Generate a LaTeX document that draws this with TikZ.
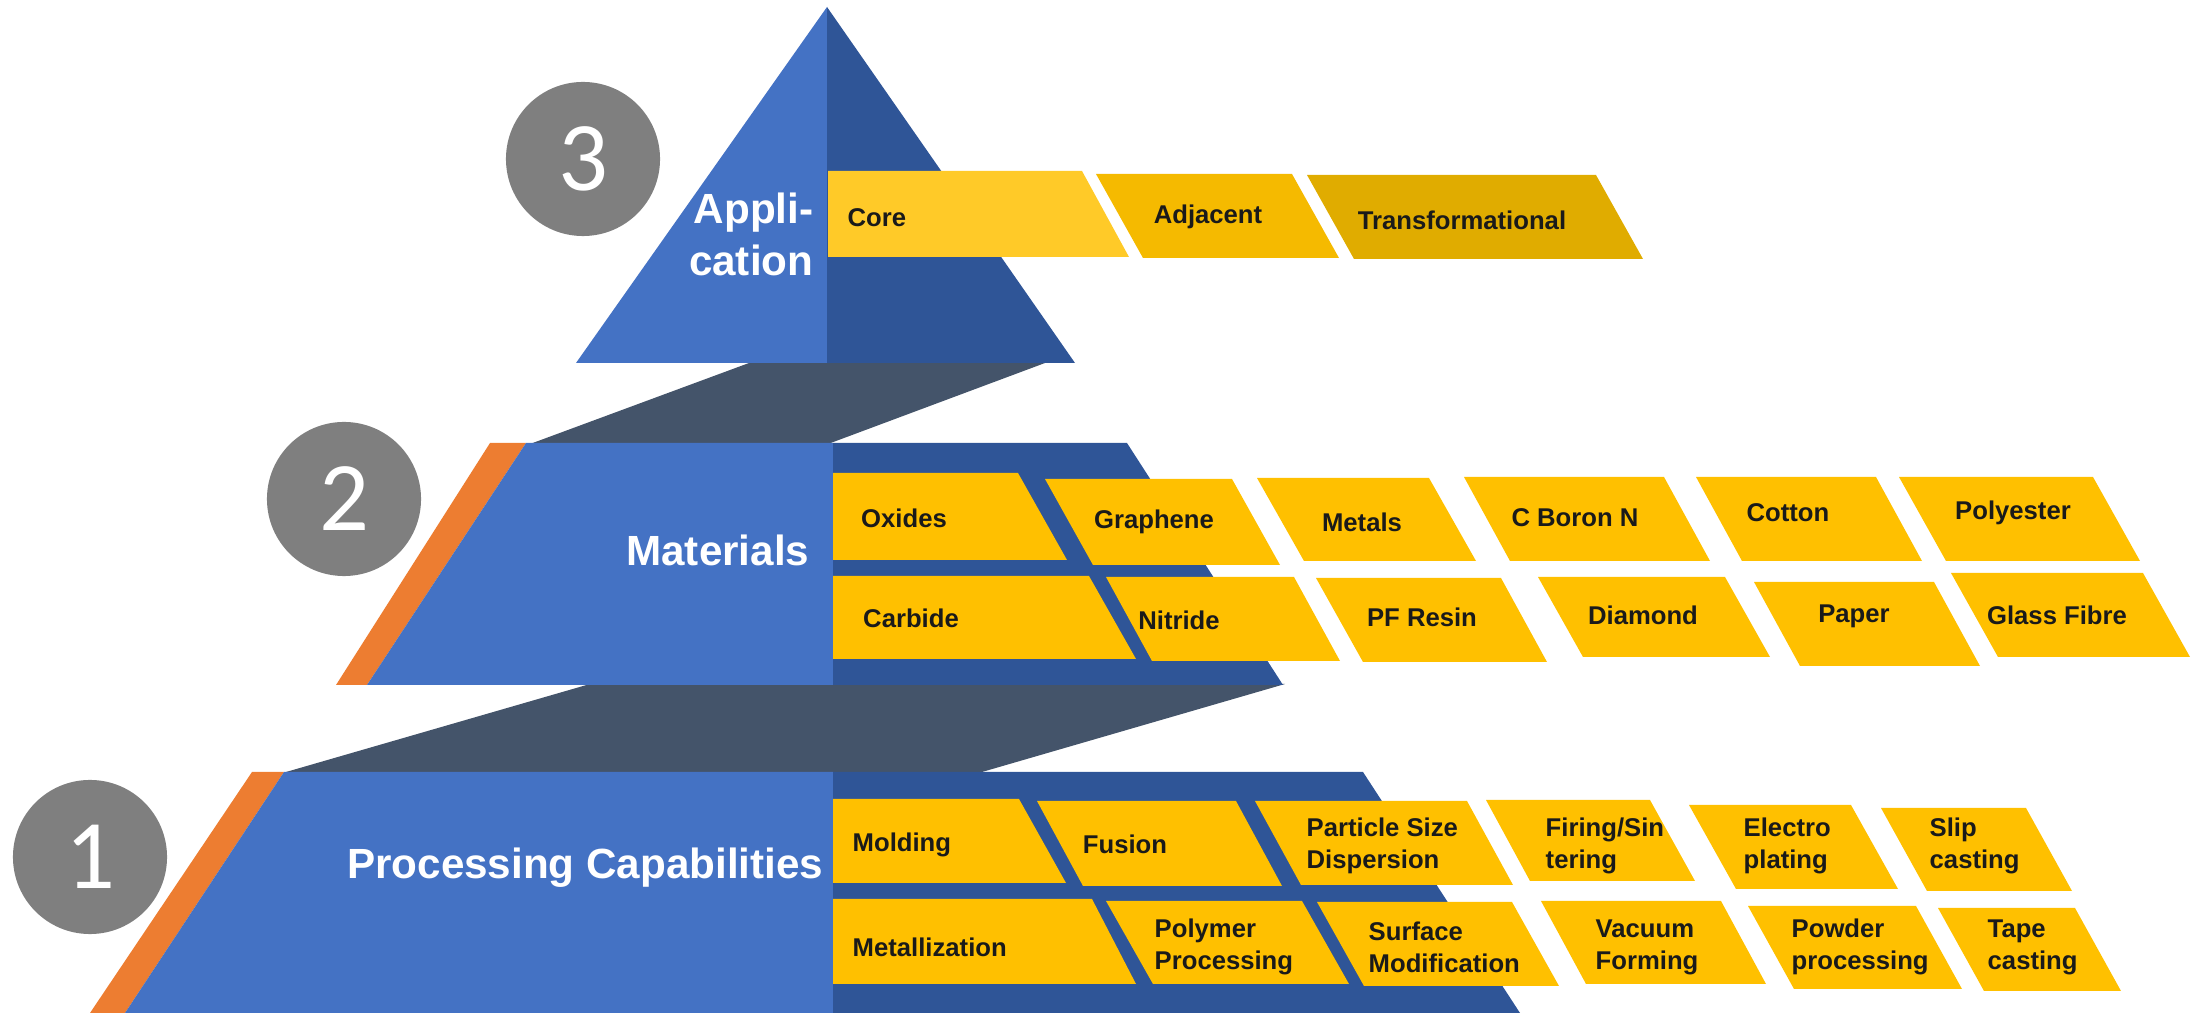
\documentclass[tikz,border=0pt]{standalone}
\usepackage{fontspec}
\setmainfont{Liberation Sans}
\newfontfamily\numfont{Carlito}
\usetikzlibrary{positioning}

\definecolor{pyrLight}{HTML}{4472C4}
\definecolor{pyrDark}{HTML}{2F5597}
\definecolor{bandGray}{HTML}{44546A}
\definecolor{edgeOrange}{HTML}{ED7D31}
\definecolor{badgeGray}{HTML}{7F7F7F}
\definecolor{chipYellow}{HTML}{FFC000}
\definecolor{coreYellow}{HTML}{FFCA28}
\definecolor{adjYellow}{HTML}{F5BA00}
\definecolor{transYellow}{HTML}{E0AC00}
\definecolor{chipText}{HTML}{1A1A1A}

\begin{document}
\begin{tikzpicture}[
        x=0.01cm, y=-0.01cm,
        light/.style={fill=pyrLight},
        dark/.style={fill=pyrDark},
        band/.style={fill=bandGray},
        edge/.style={fill=edgeOrange},
        chip/.style={fill=chipYellow},
        lbl/.style={inner sep=0pt, align=left, text=chipText, font=\fontsize{7.3}{9.1}\selectfont\bfseries},
        title/.style={inner sep=0pt, align=right, text=white, font=\fontsize{12}{14.8}\selectfont\bfseries},
        badge/.style={circle, fill=badgeGray, minimum size=1.54cm, inner sep=0pt, text=white, font=\numfont\fontsize{28}{28}\selectfont}
    ]
        \useasboundingbox (0,0) rectangle (2202,1013);

        % connecting bands
        \fill[band] (590,684) -- (1285,684) -- (982,772) -- (286,772) -- cycle;
        \fill[band] (749,363) -- (1045,363) -- (828,444) -- (530,444) -- cycle;

        % level 1
        \fill[edge] (252,772) -- (284,772) -- (125,1013) -- (90,1013) -- cycle;
        \fill[light] (284,772) -- (833,772) -- (833,1013) -- (125,1013) -- cycle;
        \fill[dark] (833,772) -- (1363,772) -- (1520,1013) -- (833,1013) -- cycle;

        % level 2
        \fill[edge] (490,443) -- (526,443) -- (367,685) -- (336,685) -- cycle;
        \fill[light] (526,443) -- (833,443) -- (833,685) -- (367,685) -- cycle;
        \fill[dark] (833,443) -- (1127,443) -- (1283,685) -- (833,685) -- cycle;

        % level 3
        \fill[light] (827,7) -- (827,363) -- (576,363) -- cycle;
        \fill[dark] (827,7) -- (1075,363) -- (827,363) -- cycle;

        \node[badge] (n3) at (583,159) {3};
        \node[badge] (n2) at (344,499) {2};
        \node[badge] (n1) at (90,857) {1};

        \node[title, anchor=east] (application) at (814,234) {Appli-\\cation};
        \node[title, anchor=east] (materials) at (810,550) {Materials};
        \node[title, anchor=east] (processing) at (824,868) {Processing Capabilities};

        % application
        \fill[chip, fill=coreYellow] (828,171) -- (1082,171) -- (1129,257) -- (828,257) -- cycle;
        \node[lbl, anchor=west] (core) at (847,218) {Core};
        \fill[chip, fill=adjYellow] (1096,174) -- (1292,174) -- (1339,258) -- (1143,258) -- cycle;
        \node[lbl] (adjacent) at (1208,217) {Adjacent};
        \fill[chip, fill=transYellow] (1307,175) -- (1596,175) -- (1643,259) -- (1354,259) -- cycle;
        \node[lbl] (transformational) at (1462,220) {Transformational};

        % materials
        \fill[chip] (833,473) -- (1018,473) -- (1067,560) -- (833,560) -- cycle;
        \node[lbl] (oxides) at (904,518) {Oxides};
        \fill[chip] (1045,479) -- (1232,479) -- (1280,565) -- (1093,565) -- cycle;
        \node[lbl] (graphene) at (1154,522) {Graphene};
        \fill[chip] (1257,478) -- (1429,478) -- (1476,561) -- (1304,561) -- cycle;
        \node[lbl] (metals) at (1362,522) {Metals};
        \fill[chip] (1464,477) -- (1664,477) -- (1710,561) -- (1510,561) -- cycle;
        \node[lbl] (cbn) at (1575,518) {C Boron N};
        \fill[chip] (1696,477) -- (1876,477) -- (1922,561) -- (1742,561) -- cycle;
        \node[lbl] (cotton) at (1788,513) {Cotton};
        \fill[chip] (1899,477) -- (2093,477) -- (2140,561) -- (1946,561) -- cycle;
        \node[lbl] (polyester) at (2013,513) {Polyester};

        \fill[chip] (833,576) -- (1089,576) -- (1136,659) -- (833,659) -- cycle;
        \node[lbl] (carbide) at (911,618) {Carbide};
        \fill[chip] (1106,577) -- (1294,577) -- (1340,661) -- (1152,661) -- cycle;
        \node[lbl] (nitride) at (1179,620) {Nitride};
        \fill[chip] (1316,578) -- (1501,578) -- (1547,662) -- (1363,662) -- cycle;
        \node[lbl] (pfresin) at (1422,617) {PF Resin};
        \fill[chip] (1538,577) -- (1725,577) -- (1770,657) -- (1583,657) -- cycle;
        \node[lbl] (diamond) at (1643,615) {Diamond};
        \fill[chip] (1754,582) -- (1934,582) -- (1980,666) -- (1800,666) -- cycle;
        \node[lbl] (paper) at (1854,616) {Paper};
        \fill[chip] (1951,573) -- (2143,573) -- (2190,657) -- (1998,657) -- cycle;
        \node[lbl] (glass) at (2057,615) {Glass Fibre};

        % processing
        \fill[chip] (833,799) -- (1019,799) -- (1066,883) -- (833,883) -- cycle;
        \node[lbl, anchor=west] (molding) at (852,845) {Molding};
        \fill[chip] (1037,801) -- (1236,801) -- (1282,886) -- (1083,886) -- cycle;
        \node[lbl] (fusion) at (1125,844) {Fusion};
        \fill[chip] (1255,801) -- (1467,801) -- (1513,885) -- (1301,885) -- cycle;
        \node[lbl, anchor=west] (particle) at (1306,846) {Particle Size\\Dispersion};
        \fill[chip] (1486,800) -- (1650,800) -- (1695,881) -- (1530,881) -- cycle;
        \node[lbl, anchor=west] (firing) at (1545,846) {Firing/Sin\\tering};
        \fill[chip] (1689,805) -- (1851,805) -- (1898,889) -- (1736,889) -- cycle;
        \node[lbl, anchor=west] (electro) at (1743,846) {Electro\\plating};
        \fill[chip] (1881,808) -- (2026,808) -- (2072,891) -- (1927,891) -- cycle;
        \node[lbl, anchor=west] (slip) at (1929,846) {Slip\\casting};

        \fill[chip] (833,899) -- (1092,899) -- (1136,984) -- (833,984) -- cycle;
        \node[lbl, anchor=west] (metallization) at (852,947) {Metallization};
        \fill[chip] (1106,901) -- (1302,901) -- (1349,984) -- (1153,984) -- cycle;
        \node[lbl, anchor=west] (polymer) at (1154,947) {Polymer\\Processing};
        \fill[chip] (1317,902) -- (1512,902) -- (1559,986) -- (1364,986) -- cycle;
        \node[lbl, anchor=west] (surface) at (1368,947) {Surface\\Modification};
        \fill[chip] (1541,901) -- (1721,901) -- (1766,984) -- (1586,984) -- cycle;
        \node[lbl, anchor=west] (vacuum) at (1595,947) {Vacuum\\Forming};
        \fill[chip] (1748,906) -- (1916,906) -- (1962,989) -- (1794,989) -- cycle;
        \node[lbl, anchor=west] (powder) at (1791,947) {Powder\\processing};
        \fill[chip] (1938,908) -- (2075,908) -- (2121,991) -- (1984,991) -- cycle;
        \node[lbl, anchor=west] (tape) at (1987,947) {Tape\\casting};
    \end{tikzpicture}
\end{document}
